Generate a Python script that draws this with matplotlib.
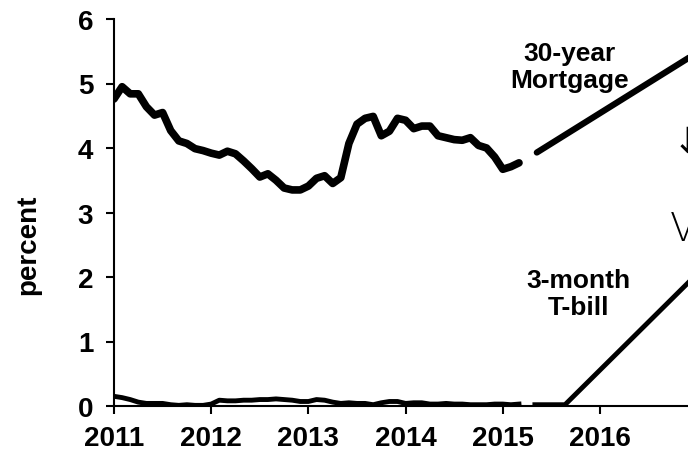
import matplotlib
matplotlib.use("Agg")
import matplotlib.pyplot as plt
import numpy as np

# monthly data, Jan 2011 - Mar 2015
mortgage = [4.76, 4.95, 4.84, 4.84, 4.64, 4.51, 4.55, 4.27, 4.11, 4.07, 3.99, 3.96,
            3.92, 3.89, 3.95, 3.91, 3.80, 3.68, 3.55, 3.60, 3.50, 3.38, 3.35, 3.35,
            3.41, 3.53, 3.57, 3.45, 3.54, 4.07, 4.37, 4.46, 4.49, 4.19, 4.26, 4.46,
            4.43, 4.30, 4.34, 4.34, 4.19, 4.16, 4.13, 4.12, 4.16, 4.04, 4.00, 3.86,
            3.67, 3.71, 3.77]
tbill = [0.15, 0.13, 0.10, 0.06, 0.04, 0.04, 0.04, 0.02, 0.01, 0.02, 0.01, 0.01,
         0.03, 0.09, 0.08, 0.08, 0.09, 0.09, 0.10, 0.10, 0.11, 0.10, 0.09, 0.07,
         0.07, 0.10, 0.09, 0.06, 0.04, 0.05, 0.04, 0.04, 0.02, 0.05, 0.07, 0.07,
         0.04, 0.05, 0.05, 0.03, 0.03, 0.04, 0.03, 0.03, 0.02, 0.02, 0.02, 0.03,
         0.03, 0.02, 0.03]
months = 2011 + np.arange(len(mortgage)) / 12.0

# projected paths
mort_proj_x = [2015.35, 2017.0]
mort_proj_y = [3.93, 5.48]
tbill_proj_x = [2015.33, 2015.64, 2017.0]
tbill_proj_y = [0.02, 0.02, 2.05]

years = [2011, 2012, 2013, 2014, 2015, 2016]
yticks = [0, 1, 2, 3, 4, 5, 6]

plt.rcParams["font.family"] = ["Liberation Sans", "DejaVu Sans"]
plt.rcParams["font.weight"] = "bold"

fig = plt.figure(figsize=(6.88, 4.52), dpi=100)
W, H = 688, 452
ax = fig.add_axes([114 / W, 45 / H, (W - 114) / W, 387 / H])

ax.plot(months, mortgage, color="black", lw=5.5, solid_capstyle="round", solid_joinstyle="round")
ax.plot(mort_proj_x, mort_proj_y, color="black", lw=4.5, solid_capstyle="round")
ax.plot(months, tbill, color="black", lw=3.5)
ax.plot(tbill_proj_x, tbill_proj_y, color="black", lw=3.5)

ax.set_xlim(2011, 2011 + (W - 114) / 97.2)
ax.set_ylim(0, 6)
ax.set_xticks(years)
ax.set_xticklabels([str(y) for y in years])
ax.set_yticks(yticks)

for s in ["top", "right"]:
    ax.spines[s].set_visible(False)
for s in ["left", "bottom"]:
    ax.spines[s].set_linewidth(1.5)
ax.tick_params(axis="both", direction="out", length=6, width=1.5, labelsize=20)
ax.tick_params(axis="y", pad=9)
ax.tick_params(axis="x", pad=8)
for lab in ax.get_xticklabels() + ax.get_yticklabels():
    lab.set_fontweight("bold")

ax.set_ylabel("percent", fontsize=20, fontweight="bold")
ax.yaxis.set_label_coords(-0.127, 0.42)

ax.text(2015.69, 5.27, "30-year\nMortgage", ha="center", va="center", fontsize=19,
        fontweight="bold", linespacing=1.15)
ax.text(2015.78, 1.75, "3-month\nT-bill", ha="center", va="center", fontsize=19,
        fontweight="bold", linespacing=1.15)

# handwritten marks at right edge
ax.text(2016.9, 4.1, "\u2193", ha="center", va="center", fontsize=26,
        fontweight="normal", family="DejaVu Sans", clip_on=True)
ax.text(2016.86, 2.75, "V", ha="center", va="center", fontsize=28,
        fontweight="light", family="DejaVu Sans", clip_on=True)

fig.savefig("out.png", dpi=100)
